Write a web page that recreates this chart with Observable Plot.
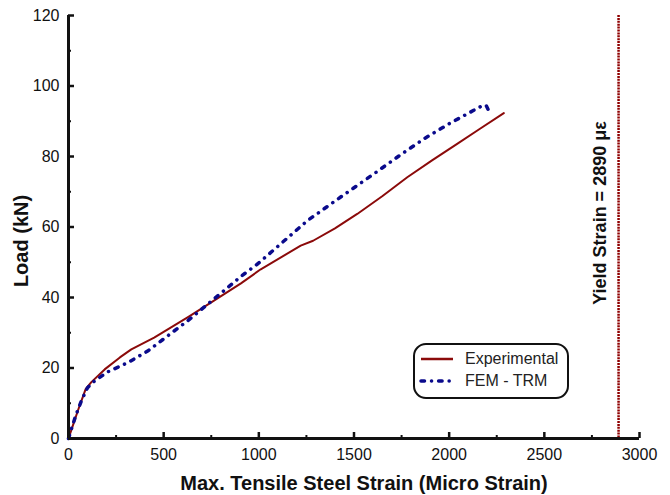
<!DOCTYPE html>
<html>
<head>
<meta charset="utf-8">
<script src="https://cdn.jsdelivr.net/npm/d3@7"></script>
<script src="https://cdn.jsdelivr.net/npm/@observablehq/plot@0.6"></script>
<style>
  html, body { margin: 0; padding: 0; background: #fff; }
  #wrap { position: relative; width: 670px; height: 495px; font-family: "Liberation Sans", Arial, sans-serif; }
  #legend {
    position: absolute; left: 413px; top: 343px; width: 152px; height: 52px;
    border: 2px solid #111; border-radius: 13px; background: #fff;
  }
  #legend .row { position: absolute; left: 4px; height: 20px; display: flex; align-items: center; }
  #legend .row span { font-size: 16px; color: #222; margin-left: 10px; }
</style>
</head>
<body>
<div id="wrap"></div>
<script>
// Experimental load-strain response: [strain (micro strain), load (kN)]
const experimental = [
  [0, 0], [25, 4], [50, 8], [90, 14], [120, 16], [190, 19.6], [270, 23],
  [330, 25.3], [450, 28.6], [630, 34.5], [750, 38.6], [906, 44], [1010, 48],
  [1220, 54.7], [1285, 56.1], [1400, 59.6], [1517, 63.7], [1650, 68.8],
  [1780, 74.1], [1910, 78.9], [2042, 83.6], [2160, 87.8], [2287, 92.3]
];

// Finite element (FEM - TRM) prediction
const femTrm = [
  [0, 0], [20, 3.5], [40, 6.8], [70, 11], [100, 14.4], [136, 16.3], [206, 18.9],
  [311, 21.5], [416, 24.8], [521, 29.1], [626, 33.4], [731, 38.1], [836, 42.8],
  [906, 46], [993, 49.5], [1255, 61.8], [1430, 68.5], [1605, 75.1], [1740, 80.3],
  [1867, 85], [2000, 89.3], [2129, 93.1], [2180, 94.6], [2195, 94.4], [2205, 93.3]
];

// Steel yield strain (micro strain)
const yieldStrain = [2890];

// Axis ticks
const xMajor = [0, 500, 1000, 1500, 2000, 2500, 3000];
const xMinor = [250, 750, 1250, 1750, 2250, 2750];
const yMajor = [0, 20, 40, 60, 80, 100, 120];
const yMinor = [10, 30, 50, 70, 90, 110];

const seriesNames = ["Experimental", "FEM - TRM"];
const seriesColors = ["#8b0a0a", "#0a0a8c"];
// dash-dot pattern, drawn with round caps
const femDash = "3.5,7,0.1,7";

const W = 670, H = 495;
const mL = 68, mR = 31, mT = 15, mB = 57;
const frameW = W - mL - mR, frameH = H - mT - mB;

const chart = Plot.plot({
  width: W,
  height: H,
  marginLeft: mL,
  marginRight: mR,
  marginTop: mT,
  marginBottom: mB,
  style: { fontFamily: "Liberation Sans, Arial, sans-serif", fontSize: "16px", color: "#111", background: "#fff" },
  x: { domain: [0, 3000], label: null },
  y: { domain: [0, 120], label: null },
  marks: [
    // yield strain limit
    Plot.ruleX(yieldStrain, { x: d => d, stroke: "#8f0000", strokeWidth: 2.5, strokeDasharray: "2,0.9" }),
    Plot.text(yieldStrain, {
      x: d => d, frameAnchor: "middle", dx: -18, dy: -14, rotate: -90,
      text: d => `Yield Strain = ${d} με`, fontSize: 18, fontWeight: "bold", fill: "#111"
    }),

    // curves
    Plot.line(experimental, { x: d => d[0], y: d => d[1], stroke: seriesColors[0], strokeWidth: 2 }),
    Plot.line(femTrm, {
      x: d => d[0], y: d => d[1], stroke: seriesColors[1], strokeWidth: 3.5,
      strokeDasharray: femDash, strokeLinecap: "round"
    }),

    // inward tick marks
    Plot.tickX(xMajor, { x: d => d, insetTop: frameH - 6, stroke: "#111", strokeWidth: 2.5 }),
    Plot.tickX(xMinor, { x: d => d, insetTop: frameH - 3, stroke: "#111", strokeWidth: 2 }),
    Plot.tickY(yMajor, { y: d => d, insetRight: frameW - 6, stroke: "#111", strokeWidth: 2.5 }),
    Plot.tickY(yMinor, { y: d => d, insetRight: frameW - 3, stroke: "#111", strokeWidth: 2 }),

    // axis lines
    Plot.ruleY([0], { stroke: "#111", strokeWidth: 3 }),
    Plot.ruleX([0], { stroke: "#111", strokeWidth: 3 }),

    // tick labels
    Plot.axisX({ ticks: xMajor, tickSize: 0, tickPadding: 10, tickFormat: d => String(d), label: null }),
    Plot.axisY({ ticks: yMajor, tickSize: 0, tickPadding: 9, tickFormat: d => String(d), label: null }),

    // axis titles
    Plot.text(["Max. Tensile Steel Strain (Micro Strain)"], {
      frameAnchor: "bottom", textAnchor: "middle", lineAnchor: "middle", dx: 10, dy: 45,
      text: d => d, fontSize: 20, fontWeight: "bold", fill: "#111"
    }),
    Plot.text(["Load (kN)"], {
      frameAnchor: "left", textAnchor: "middle", lineAnchor: "middle", dx: -47, dy: 14, rotate: -90,
      text: d => d, fontSize: 20, fontWeight: "bold", fill: "#111"
    })
  ]
});

const wrap = document.getElementById("wrap");
wrap.appendChild(chart);

// legend box
const legend = document.createElement("div");
legend.id = "legend";
const sample = (color, dash, sw) =>
  `<svg width="36" height="8"><line x1="2" y1="4" x2="34" y2="4" stroke="${color}" stroke-width="${sw}"${dash ? ` stroke-dasharray="${dash}" stroke-linecap="round"` : ""}/></svg>`;
legend.innerHTML =
  `<div class="row" style="top:4px">${sample(seriesColors[0], null, 2.5)}<span>${seriesNames[0]}</span></div>` +
  `<div class="row" style="top:26px">${sample(seriesColors[1], femDash, 3.5)}<span>${seriesNames[1]}</span></div>`;
wrap.appendChild(legend);
</script>
</body>
</html>
